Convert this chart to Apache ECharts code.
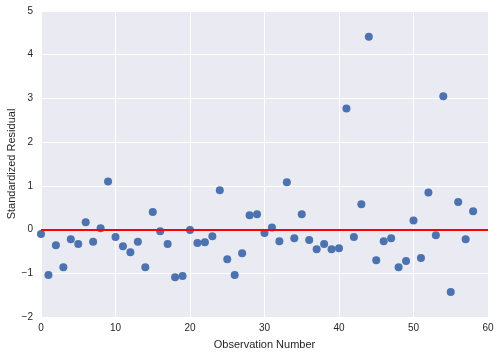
<!DOCTYPE html>
<html>
<head>
<meta charset="utf-8">
<script src="https://cdn.jsdelivr.net/npm/echarts@6/dist/echarts.min.js"></script>
<style>html,body{margin:0;padding:0;background:#fff;}#c{width:499px;height:356px;}</style>
</head>
<body>
<div id="c"></div>
<script>
var observations = [];
for (var i = 0; i < 59; i++) observations.push(i);
var residuals = [
  -0.10, -1.04, -0.36, -0.86, -0.22, -0.33, 0.17, -0.28, 0.03, 1.10,
  -0.17, -0.38, -0.52, -0.28, -0.86, 0.40, -0.04, -0.33, -1.09, -1.06,
  -0.01, -0.31, -0.29, -0.15, 0.90, -0.68, -1.04, -0.54, 0.33, 0.35,
  -0.08, 0.05, -0.27, 1.08, -0.20, 0.35, -0.24, -0.45, -0.33, -0.45,
  -0.43, 2.77, -0.17, 0.58, 4.41, -0.70, -0.27, -0.20, -0.86, -0.72,
  0.21, -0.65, 0.85, -0.13, 3.05, -1.43, 0.63, -0.22, 0.42
];
var xTicks = [0, 10, 20, 30, 40, 50, 60];
var yTicks = [-2, -1, 0, 1, 2, 3, 4, 5];
var refLine = 0;

var pts = observations.map(function (o, i) { return [o, residuals[i]]; });
var font = 'Liberation Sans, Arial, sans-serif';
var chart = echarts.init(document.getElementById('c'), null, {renderer: 'canvas'});
chart.setOption({
  animation: false,
  backgroundColor: '#ffffff',
  grid: {left: 41, right: 11, top: 11, bottom: 39, show: true, backgroundColor: '#EAEAF2', borderWidth: 0,
         containLabel: false, outerBoundsMode: 'none'},
  xAxis: {
    type: 'value', min: xTicks[0], max: xTicks[xTicks.length - 1], interval: 10,
    name: 'Observation Number', nameLocation: 'middle', nameGap: 22, nameMoveOverlap: false,
    nameTextStyle: {fontFamily: font, fontSize: 11, color: '#262626'},
    axisLine: {show: false}, axisTick: {show: false},
    axisLabel: {fontFamily: font, fontSize: 10, color: '#262626', margin: 6},
    splitLine: {show: true, lineStyle: {color: '#ffffff', width: 1}}
  },
  yAxis: {
    type: 'value', min: yTicks[0], max: yTicks[yTicks.length - 1], interval: 1,
    name: 'Standardized Residual', nameLocation: 'middle', nameGap: 24, nameMoveOverlap: false,
    nameTextStyle: {fontFamily: font, fontSize: 11, color: '#262626'},
    axisLine: {show: false}, axisTick: {show: false},
    axisLabel: {fontFamily: font, fontSize: 10, color: '#262626', margin: 8,
      formatter: function (v) { return v < 0 ? '\u2212' + Math.abs(v) : String(v); }},
    splitLine: {show: true, lineStyle: {color: '#ffffff', width: 1}}
  },
  series: [{
    type: 'scatter',
    data: pts,
    symbolSize: 8,
    clip: true,
    itemStyle: {color: '#4C72B0', opacity: 1},
    z: 3
  }, {
    type: 'line',
    data: [],
    markLine: {
      silent: true, symbol: ['none', 'none'], label: {show: false},
      lineStyle: {color: '#ff0000', width: 2, type: 'solid'},
      data: [{yAxis: refLine}]
    },
    z: 2
  }]
});
</script>
</body>
</html>
